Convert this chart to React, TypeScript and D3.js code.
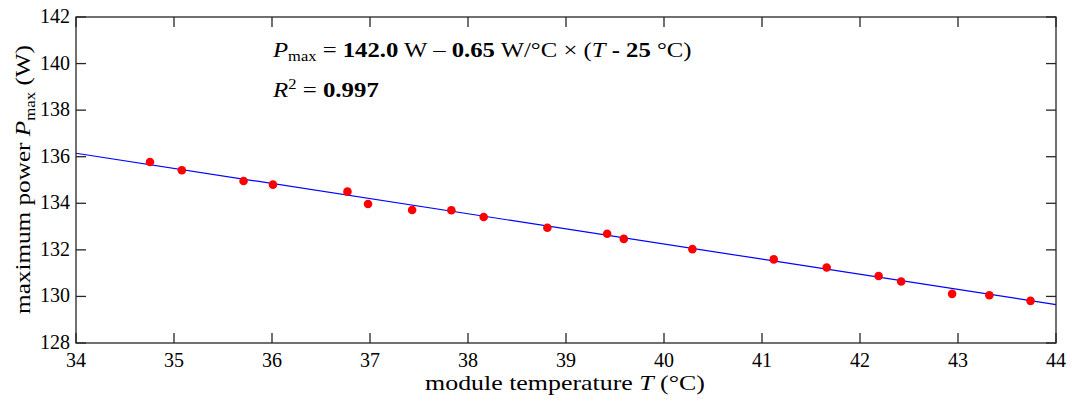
import React, { useLayoutEffect, useRef, useState } from "react";
import * as d3 from "d3";

const temperatures = [
  34.755, 35.08, 35.71, 36.01, 36.77, 36.98, 37.43, 37.83, 38.16, 38.81,
  39.42, 39.59, 40.29, 41.12, 41.66, 42.19, 42.42, 42.94, 43.32, 43.74,
];
const powers = [
  135.77, 135.42, 134.96, 134.8, 134.5, 133.97, 133.71, 133.7, 133.41, 132.95,
  132.69, 132.47, 132.03, 131.59, 131.24, 130.88, 130.64, 130.11, 130.05, 129.81,
];
const xTicks = [34, 35, 36, 37, 38, 39, 40, 41, 42, 43, 44];
const yTicks = [128, 130, 132, 134, 136, 138, 140, 142];
const fitIntercept = 142.0; // at 25 °C
const fitSlope = -0.65;
const fitRefT = 25;
const rSquared = "0.997";

const W = 1072;
const H = 401;
const margin = { left: 76, right: 16, top: 17, bottom: 58 };
const FONT = "Liberation Serif";

type FitProps = {
  x: number;
  y: number;
  width: number;
  anchor?: "start" | "middle" | "end";
  rotate?: number;
  fontSize: number;
  children: React.ReactNode;
};

function FitText({ x, y, width, anchor = "start", rotate = 0, fontSize, children }: FitProps) {
  const ref = useRef<SVGTextElement>(null);
  const [s, setS] = useState(1);
  useLayoutEffect(() => {
    if (ref.current) {
      const w = ref.current.getBBox().width;
      if (w > 0) setS(width / w);
    }
  }, [width]);
  return (
    <g transform={`translate(${x},${y}) rotate(${rotate}) scale(${s},1)`}>
      <text ref={ref} x={0} y={0} textAnchor={anchor} fontSize={fontSize} fill="#000" style={{ fontFamily: FONT }}>
        {children}
      </text>
    </g>
  );
}

export default function App() {
  const x = d3.scaleLinear().domain([34, 44]).range([margin.left, W - margin.right]);
  const y = d3.scaleLinear().domain([128, 142]).range([H - margin.bottom, margin.top]);
  const x0 = margin.left, x1 = W - margin.right, y0 = H - margin.bottom, y1 = margin.top;
  const fit = (t: number) => fitIntercept + fitSlope * (t - fitRefT);
  const line = d3.line<number>().x((t) => x(t)).y((t) => y(fit(t)));
  const tickLen = 10;
  const axisColor = "#262626";
  const fs = 20;
  const lfs = 21;
  const serif = { fontFamily: FONT };
  return (
    <svg width={W} height={H} style={{ position: "absolute", left: 0, top: 0, background: "#fff", fontFamily: FONT }}>
      <rect x={0} y={0} width={W} height={H} fill="#fff" />
      <path d={line(x.domain()) || ""} stroke="#0000ff" strokeWidth={1.2} fill="none" />
      {temperatures.map((t, i) => (
        <circle key={i} cx={x(t)} cy={y(powers[i])} r={4.3} fill="#ff0000" />
      ))}
      {/* frame */}
      <rect x={x0} y={y1} width={x1 - x0} height={y0 - y1} fill="none" stroke={axisColor} strokeWidth={1.3} />
      {xTicks.map((t) => (
        <g key={"x" + t}>
          <line x1={x(t)} x2={x(t)} y1={y0} y2={y0 - tickLen} stroke={axisColor} strokeWidth={1.3} />
          <line x1={x(t)} x2={x(t)} y1={y1} y2={y1 + tickLen} stroke={axisColor} strokeWidth={1.3} />
          <text x={x(t)} y={y0 + 24} style={serif} fontSize={fs} textAnchor="middle" fill="#000">{t}</text>
        </g>
      ))}
      {yTicks.map((v) => (
        <g key={"y" + v}>
          <line x1={x0} x2={x0 + tickLen} y1={y(v)} y2={y(v)} stroke={axisColor} strokeWidth={1.3} />
          <line x1={x1} x2={x1 - tickLen} y1={y(v)} y2={y(v)} stroke={axisColor} strokeWidth={1.3} />
          <text x={x0 - 6} y={y(v) + 6} style={serif} fontSize={fs} textAnchor="end" fill="#000">{v}</text>
        </g>
      ))}
      {/* x label */}
      <FitText x={565} y={390} width={280} anchor="middle" fontSize={lfs}>
        module temperature <tspan fontStyle="italic">T</tspan> (°C)
      </FitText>
      {/* y label */}
      <FitText x={30} y={179.5} width={269} anchor="middle" rotate={-90} fontSize={lfs}>
        maximum power <tspan fontStyle="italic">P</tspan>
        <tspan fontSize={14} dy={4.5}>max</tspan>
        <tspan dy={-4.5}> (W)</tspan>
      </FitText>
      {/* annotation */}
      <FitText x={273} y={56.7} width={420} fontSize={lfs}>
        <tspan fontStyle="italic">P</tspan>
        <tspan fontSize={14} dy={4.5}>max</tspan>
        <tspan dy={-4.5}> = </tspan>
        <tspan fontWeight="bold">{fitIntercept.toFixed(1)}</tspan>
        <tspan> W – </tspan>
        <tspan fontWeight="bold">{Math.abs(fitSlope).toFixed(2)}</tspan>
        <tspan> W/°C × (</tspan>
        <tspan fontStyle="italic">T</tspan>
        <tspan fontWeight="bold"> - {fitRefT}</tspan>
        <tspan> °C)</tspan>
      </FitText>
      <FitText x={273} y={96.5} width={107} fontSize={lfs}>
        <tspan fontStyle="italic">R</tspan>
        <tspan fontSize={14} dy={-8}>2</tspan>
        <tspan dy={8}> = </tspan>
        <tspan fontWeight="bold">{rSquared}</tspan>
      </FitText>
    </svg>
  );
}
